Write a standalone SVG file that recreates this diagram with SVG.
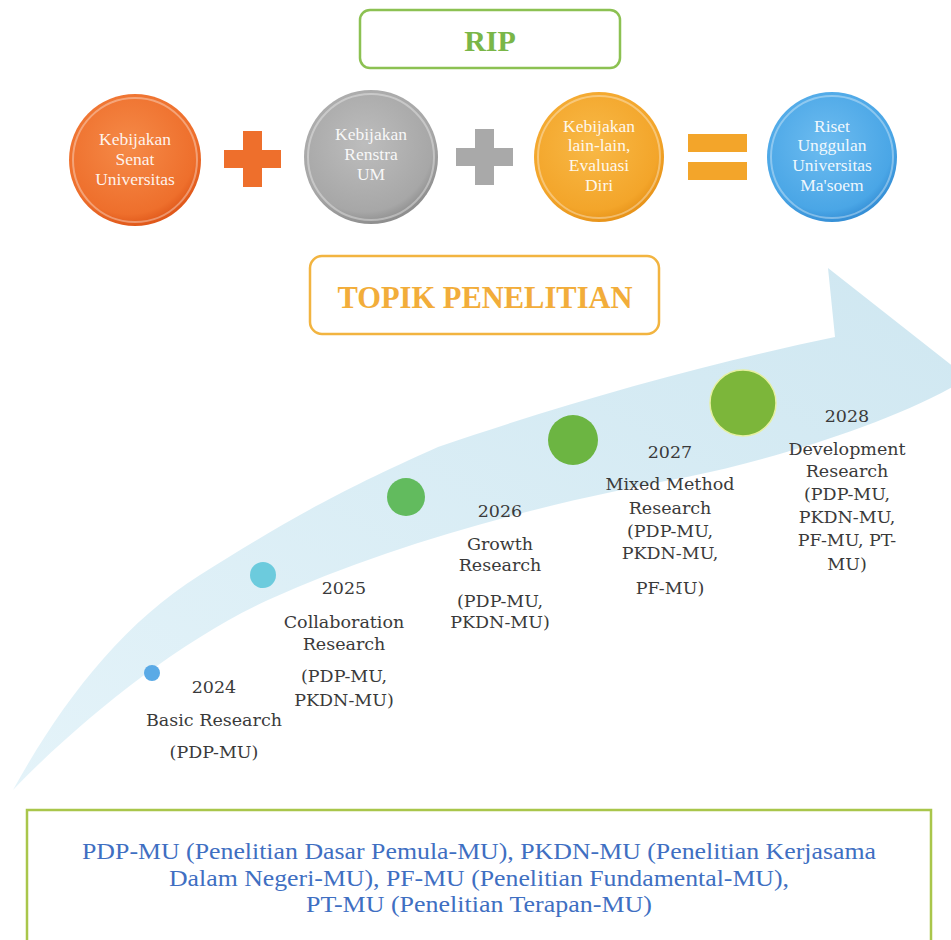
<svg xmlns="http://www.w3.org/2000/svg" width="951" height="940" viewBox="0 0 951 940">
<style>
.ctext{font-family:"Liberation Serif","Times New Roman",serif;font-size:17.5px;fill:#ffffff;fill-opacity:0.92;text-anchor:middle}
.ttext{font-family:"DejaVu Serif","Liberation Serif",serif;font-size:17.5px;fill:#3a3a3a;text-anchor:middle}
.btext{font-family:"Liberation Serif","Times New Roman",serif;font-size:22.5px;fill:#3f6fc2;text-anchor:middle}
.title{font-family:"Liberation Serif","Times New Roman",serif;font-weight:bold;text-anchor:middle}
.gloss{fill:none;stroke:#ffffff;stroke-opacity:0.35;stroke-width:2}
</style>
<defs>
<radialGradient id="gOrange" cx="0.45" cy="0.4" r="0.6">
<stop offset="0" stop-color="#f58a48"/><stop offset="0.85" stop-color="#ee6f2c"/><stop offset="1" stop-color="#e0581a"/>
</radialGradient>
<radialGradient id="gGray" cx="0.45" cy="0.4" r="0.6">
<stop offset="0" stop-color="#bdbdbd"/><stop offset="0.85" stop-color="#a7a7a7"/><stop offset="1" stop-color="#8e8e8e"/>
</radialGradient>
<radialGradient id="gYellow" cx="0.45" cy="0.4" r="0.6">
<stop offset="0" stop-color="#f8b947"/><stop offset="0.85" stop-color="#f3a52a"/><stop offset="1" stop-color="#e8941a"/>
</radialGradient>
<radialGradient id="gBlue" cx="0.45" cy="0.4" r="0.6">
<stop offset="0" stop-color="#6dbcf0"/><stop offset="0.85" stop-color="#4aa6e6"/><stop offset="1" stop-color="#358fd6"/>
</radialGradient>
<linearGradient id="gArrow" x1="0" y1="1" x2="1" y2="0">
<stop offset="0" stop-color="#e4f3f9"/><stop offset="1" stop-color="#cfe7f1"/>
</linearGradient>
</defs>

<g id="rip">
<rect x="360" y="10" width="260" height="58" rx="10" fill="#ffffff" stroke="#8cc152" stroke-width="2.5"/>
<text class="title" x="490" y="51" font-size="30" fill="#7ab648">RIP</text>
</g>

<g id="senat">
<circle cx="135" cy="160" r="66" fill="url(#gOrange)"/>
<circle class="gloss" cx="135" cy="160" r="62"/>
<text class="ctext" x="135" y="145">Kebijakan</text>
<text class="ctext" x="135" y="165">Senat</text>
<text class="ctext" x="135" y="185">Universitas</text>
</g>

<g id="plus1">
<rect x="224" y="150" width="57" height="18" fill="#ee6f2c"/>
<rect x="243" y="131" width="19" height="56" fill="#ee6f2c"/>
</g>

<g id="renstra">
<circle cx="371" cy="157" r="67" fill="url(#gGray)"/>
<circle class="gloss" cx="371" cy="157" r="63"/>
<text class="ctext" x="371" y="140">Kebijakan</text>
<text class="ctext" x="371" y="160">Renstra</text>
<text class="ctext" x="371" y="180">UM</text>
</g>

<g id="plus2">
<rect x="456" y="148" width="57" height="18" fill="#a9a9a9"/>
<rect x="475" y="129" width="19" height="56" fill="#a9a9a9"/>
</g>

<g id="lainlain">
<circle cx="599" cy="157" r="65" fill="url(#gYellow)"/>
<circle class="gloss" cx="599" cy="157" r="61"/>
<text class="ctext" x="599" y="132">Kebijakan</text>
<text class="ctext" x="599" y="151">lain-lain,</text>
<text class="ctext" x="599" y="171">Evaluasi</text>
<text class="ctext" x="599" y="191">Diri</text>
</g>

<g id="equals">
<rect x="688" y="134" width="59" height="18" fill="#f3a52a"/>
<rect x="688" y="162" width="59" height="18" fill="#f3a52a"/>
</g>

<g id="riset">
<circle cx="832" cy="157" r="65" fill="url(#gBlue)"/>
<circle class="gloss" cx="832" cy="157" r="61"/>
<text class="ctext" x="832" y="132">Riset</text>
<text class="ctext" x="832" y="151">Unggulan</text>
<text class="ctext" x="832" y="171">Universitas</text>
<text class="ctext" x="832" y="191">Ma'soem</text>
</g>

<g id="topik">
<rect x="310" y="256" width="349" height="78" rx="12" fill="#ffffff" stroke="#f2b440" stroke-width="2.5"/>
<text class="title" x="485" y="308" font-size="30.5" fill="#f2ad3a">TOPIK PENELITIAN</text>
</g>

<g id="connectors">
<path d="M13,790 C60,705 120,625 200,575 C280,525 330,495 438,447 C560,405 700,365 835,337 L828,268 L968,378 C900,420 780,458 687,477 C560,500 400,540 268,600 C180,640 80,720 13,790 Z" fill="url(#gArrow)"/>
</g>

<g id="y2024">
<circle cx="152" cy="673" r="8" fill="#5aaae6"/>
<text class="ttext" x="214" y="693">2024</text>
<text class="ttext" x="214" y="726">Basic Research</text>
<text class="ttext" x="214" y="758">(PDP-MU)</text>
</g>

<g id="y2025">
<circle cx="263" cy="575" r="13" fill="#6ccbdd"/>
<text class="ttext" x="344" y="594">2025</text>
<text class="ttext" x="344" y="628">Collaboration</text>
<text class="ttext" x="344" y="650">Research</text>
<text class="ttext" x="344" y="682">(PDP-MU,</text>
<text class="ttext" x="344" y="706">PKDN-MU)</text>
</g>

<g id="y2026">
<circle cx="406" cy="497" r="19" fill="#62bb5e"/>
<text class="ttext" x="500" y="517">2026</text>
<text class="ttext" x="500" y="550">Growth</text>
<text class="ttext" x="500" y="571">Research</text>
<text class="ttext" x="500" y="607">(PDP-MU,</text>
<text class="ttext" x="500" y="628">PKDN-MU)</text>
</g>

<g id="y2027">
<circle cx="573" cy="440" r="25" fill="#6cb542"/>
<text class="ttext" x="670" y="458">2027</text>
<text class="ttext" x="670" y="490">Mixed Method</text>
<text class="ttext" x="670" y="514">Research</text>
<text class="ttext" x="670" y="537">(PDP-MU,</text>
<text class="ttext" x="670" y="559">PKDN-MU,</text>
<text class="ttext" x="670" y="594">PF-MU)</text>
</g>

<g id="y2028">
<circle cx="743" cy="403" r="33" fill="#7cb63a" stroke="#e6f0a0" stroke-width="1.5"/>
<text class="ttext" x="847" y="422">2028</text>
<text class="ttext" x="847" y="455">Development</text>
<text class="ttext" x="847" y="477">Research</text>
<text class="ttext" x="847" y="500">(PDP-MU,</text>
<text class="ttext" x="847" y="523">PKDN-MU,</text>
<text class="ttext" x="847" y="546">PF-MU, PT-</text>
<text class="ttext" x="847" y="570">MU)</text>
</g>

<g id="legend">
<rect x="27" y="810" width="904" height="150" fill="#ffffff" stroke="#a9c64b" stroke-width="2.5"/>
<text class="btext" x="479" y="859" textLength="794" lengthAdjust="spacingAndGlyphs">PDP-MU (Penelitian Dasar Pemula-MU), PKDN-MU (Penelitian Kerjasama</text>
<text class="btext" x="479" y="885.5" textLength="620" lengthAdjust="spacingAndGlyphs">Dalam Negeri-MU), PF-MU (Penelitian Fundamental-MU),</text>
<text class="btext" x="479" y="912" textLength="346" lengthAdjust="spacingAndGlyphs">PT-MU (Penelitian Terapan-MU)</text>
</g>
</svg>
